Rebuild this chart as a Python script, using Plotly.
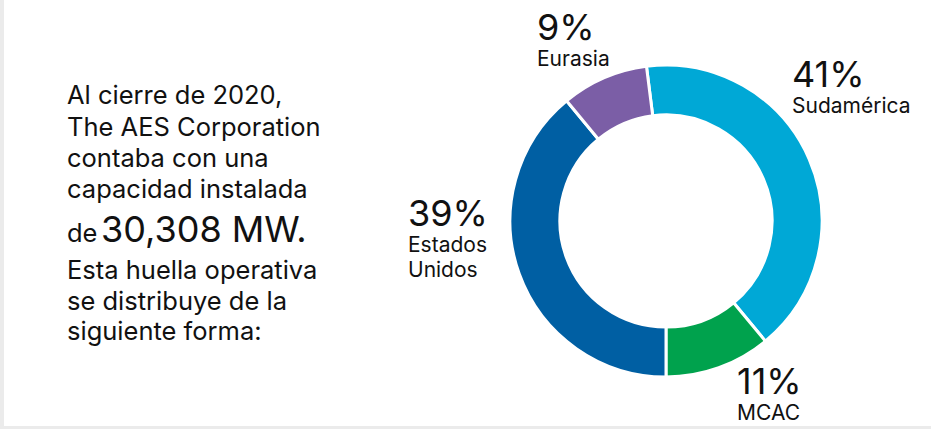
import plotly.graph_objects as go

# ---- data ----
regions = ["Sudamérica", "MCAC", "Estados Unidos", "Eurasia"]
shares = [41, 11, 39, 9]
region_labels = ["Sudamérica", "MCAC", "Estados<br>Unidos", "Eurasia"]
colors = ["#00A8D6", "#00A24D", "#005FA3", "#7B5EA6"]
intro_lines_top = ["Al cierre de 2020,", "The AES Corporation", "contaba con una", "capacidad instalada"]
intro_small = "de"
intro_big = "30,308 MW."
intro_lines_bottom = ["Esta huella operativa", "se distribuye de la", "siguiente forma:"]

W, H = 936, 429
FONT = "Inter, Liberation Sans, Arial, sans-serif"
INK = "#111111"

# donut geometry (pixels)
cx, cy, R = 666, 221, 156

# first slice starts so that slices 1+2 end at 6 o'clock
rotation = -((shares[0] + shares[1]) - 50) * 3.6

fig = go.Figure(go.Pie(
    labels=regions,
    values=shares,
    hole=0.68,
    sort=False,
    direction="clockwise",
    rotation=rotation,
    marker=dict(colors=colors, line=dict(color="white", width=3)),
    textinfo="none",
    hoverinfo="label+percent",
    showlegend=False,
    domain=dict(x=[(cx - R) / W, (cx + R) / W],
                y=[(H - cy - R) / H, (H - cy + R) / H]),
))

annotations = []


def ann(text, x_px, baseline_px, size, top_size=None):
    top = baseline_px - (1 + 0.969 * (top_size or size))
    annotations.append(dict(
        text=text, xref="paper", yref="paper",
        x=x_px / W, y=1 - top / H,
        xanchor="left", yanchor="top", align="left",
        showarrow=False, font=dict(family=FONT, size=size, color=INK),
    ))


# intro paragraph (one annotation per line)
for line, bl in zip(intro_lines_top, [103, 135, 166, 196.5]):
    ann(line, 65, bl, 25.5)
ann(intro_small, 65, 241, 25.5)
ann(intro_big, 99, 241, 36)
for line, bl in zip(intro_lines_bottom, [278, 308.5, 338.5]):
    ann(line, 65, bl, 25.5)

# slice labels: (x, pct baseline)
label_pos = [(790, 86), (735, 393), (406, 225), (535, 39)]
for v, name, (lx, pb) in zip(shares, region_labels, label_pos):
    txt = (f"<span style='font-size:36px'>{v}%</span><br>"
           + "<br>".join(f"<span style='font-size:21px'>{p}</span>" for p in name.split("<br>")))
    ann(txt, lx, pb, 19.7, top_size=36)

shapes = [
    dict(type="rect", xref="paper", yref="paper", x0=0, x1=4 / W, y0=0, y1=1,
         fillcolor="#EBEBEB", line_width=0, layer="below"),
    dict(type="rect", xref="paper", yref="paper", x0=0, x1=931 / W, y0=0, y1=3 / H,
         fillcolor="#EBEBEB", line_width=0, layer="below"),
]

fig.update_layout(
    width=W, height=H,
    margin=dict(l=0, r=0, t=0, b=0),
    paper_bgcolor="white", plot_bgcolor="white",
    annotations=annotations, shapes=shapes,
    showlegend=False,
)

fig.write_html(
    "out.html",
    config={"displayModeBar": False},
    post_script="document.body.style.margin='0';document.body.style.padding='0';",
)
